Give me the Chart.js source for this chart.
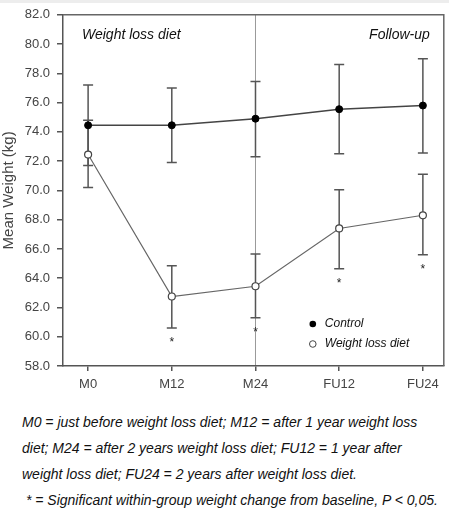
<!DOCTYPE html>
<html><head><meta charset="utf-8">
<script src="https://cdn.jsdelivr.net/npm/chart.js@4"></script>
<style>
html,body{margin:0;padding:0;background:#fff;}
body{width:449px;height:525px;overflow:hidden;position:relative;}
#band{position:absolute;left:0;top:0;width:449px;height:3px;background:#ededed;}
#wrap{position:absolute;left:0;top:0;width:449px;height:400px;}
#cap{position:absolute;left:22px;top:409px;width:430px;font:italic 14px 'Liberation Sans',sans-serif;line-height:26px;color:#111;white-space:nowrap;}
</style>
</head><body>
<div id="band"></div>
<div id="wrap"><canvas id="c"></canvas></div>
<div id="cap">M0 = just before weight loss diet; M12 = after 1 year weight loss<br>diet; M24 = after 2 years weight loss diet; FU12 = 1 year after<br>weight loss diet; FU24 = 2 years after weight loss diet.<br>&nbsp;* = Significant within-group weight change from baseline, P &lt; 0,05.</div>
<script>
const categories = ['M0','M12','M24','FU12','FU24'];
const controlMean = [74.45, 74.45, 74.9, 75.55, 75.8];
const controlLow  = [71.7, 71.9, 72.3, 72.5, 72.55];
const controlHigh = [77.2, 77.0, 77.45, 78.6, 79.0];
const dietMean = [72.45, 62.75, 63.45, 67.4, 68.3];
const dietLow  = [70.2, 60.6, 61.3, 64.65, 65.6];
const dietHigh = [74.8, 64.85, 65.65, 70.05, 71.1];
const dietSignificant = [false, true, true, true, true];
const yTicks = {min: 58, max: 82, step: 2};
const dividerAt = 'M24';
const phaseLabels = ['Weight loss diet', 'Follow-up'];
const seriesNames = ['Control', 'Weight loss diet'];

const pts = arr => arr.map((v,i)=>({x:i,y:v}));
const scriptFont = "italic 14px 'Liberation Sans', sans-serif";

const errorPlugin = {
  id:'errbars',
  beforeDatasetsDraw(chart){
    const {ctx, scales:{x,y}} = chart;
    ctx.save();
    ctx.strokeStyle = '#555'; ctx.lineWidth = 1.5;
    const draw = (lo, hi) => lo.forEach((l,i)=>{
      const px = x.getPixelForValue(i), y1 = y.getPixelForValue(l), y2 = y.getPixelForValue(hi[i]);
      ctx.beginPath();
      ctx.moveTo(px,y1); ctx.lineTo(px,y2);
      ctx.moveTo(px-5,y1); ctx.lineTo(px+5,y1);
      ctx.moveTo(px-5,y2); ctx.lineTo(px+5,y2);
      ctx.stroke();
    });
    draw(controlLow, controlHigh);
    draw(dietLow, dietHigh);
    ctx.restore();
  }
};

const decoPlugin = {
  id:'deco',
  beforeDraw(chart){
    const {ctx, chartArea:a, scales:{x}} = chart;
    ctx.save();
    const dx = x.getPixelForValue(categories.indexOf(dividerAt));
    ctx.strokeStyle = '#999'; ctx.lineWidth = 1;
    ctx.beginPath(); ctx.moveTo(dx, a.top); ctx.lineTo(dx, a.bottom); ctx.stroke();
    ctx.restore();
  },
  afterDraw(chart){
    const {ctx, chartArea:a, scales:{x,y}} = chart;
    ctx.save();
    // top & right frame
    ctx.strokeStyle = '#666'; ctx.lineWidth = 1.5;
    ctx.beginPath(); ctx.moveTo(a.left, a.top); ctx.lineTo(a.right, a.top); ctx.lineTo(a.right, a.bottom); ctx.stroke();
    // phase labels
    ctx.fillStyle = '#111'; ctx.font = scriptFont; ctx.textBaseline = 'alphabetic';
    ctx.textAlign = 'left'; ctx.fillText(phaseLabels[0], a.left + 19, a.top + 24);
    ctx.textAlign = 'right'; ctx.fillText(phaseLabels[1], a.right - 14, a.top + 24);
    // asterisks
    ctx.font = "12px 'Liberation Sans', sans-serif"; ctx.textAlign = 'center'; ctx.fillStyle = '#222';
    dietSignificant.forEach((s,i)=>{
      if(!s) return;
      ctx.fillText('*', x.getPixelForValue(i), y.getPixelForValue(dietLow[i]) + 18);
    });
    // legend
    const lx = a.right - 131, ly = a.bottom - 42;
    ctx.lineWidth = 1;
    ctx.fillStyle = '#000'; ctx.strokeStyle = '#000';
    ctx.beginPath(); ctx.arc(lx, ly, 3.3, 0, Math.PI*2); ctx.fill();
    ctx.fillStyle = '#fff'; ctx.strokeStyle = '#444';
    ctx.beginPath(); ctx.arc(lx, ly+20, 3.3, 0, Math.PI*2); ctx.fill(); ctx.stroke();
    ctx.fillStyle = '#111'; ctx.font = "italic 12px 'Liberation Sans', sans-serif";
    ctx.textAlign = 'left'; ctx.textBaseline = 'middle';
    ctx.fillText(seriesNames[0], lx + 12, ly);
    ctx.fillText(seriesNames[1], lx + 12, ly + 20);
    ctx.restore();
  }
};

new Chart(document.getElementById('c'), {
  type:'line',
  data:{datasets:[
    {label:seriesNames[0], data:pts(controlMean), borderColor:'#444', borderWidth:1.5,
     pointRadius:3.5, pointBackgroundColor:'#000', pointBorderColor:'#000', pointBorderWidth:1},
    {label:seriesNames[1], data:pts(dietMean), borderColor:'#666', borderWidth:1.2,
     pointRadius:3.5, pointBackgroundColor:'#fff', pointBorderColor:'#444', pointBorderWidth:1.2}
  ]},
  options:{
    responsive:true, maintainAspectRatio:false, animation:false,
    layout:{padding:{top:14, right:4, bottom:0, left:0}},
    plugins:{legend:{display:false}, tooltip:{enabled:false}},
    scales:{
      x:{type:'linear', min:-0.3, max:4.25,
        afterBuildTicks(ax){ ax.ticks = categories.map((c,i)=>({value:i})); },
        afterFit(ax){ ax.height = 34; },
        grid:{drawOnChartArea:false, drawTicks:true, tickLength:5, color:'#555', lineWidth:1.5},
        border:{display:true, color:'#555', width:1.5},
        ticks:{callback:v=>categories[v], color:'#444', font:{family:'Liberation Sans', size:13}, padding:6, autoSkip:false, maxRotation:0}
      },
      y:{min:yTicks.min, max:yTicks.max,
        afterFit(ax){ ax.width = 63; },
        grid:{drawOnChartArea:false, drawTicks:true, tickLength:6, color:'#555', lineWidth:1.5},
        border:{display:true, color:'#555', width:1.5},
        ticks:{stepSize:yTicks.step, callback:v=>v.toFixed(1), color:'#444', font:{family:'Liberation Sans', size:13}, padding:7},
        title:{display:true, text:'Mean Weight (kg)', color:'#444', font:{family:'Liberation Sans', size:15}, padding:0}
      }
    }
  },
  plugins:[errorPlugin, decoPlugin]
});
</script>
</body></html>
